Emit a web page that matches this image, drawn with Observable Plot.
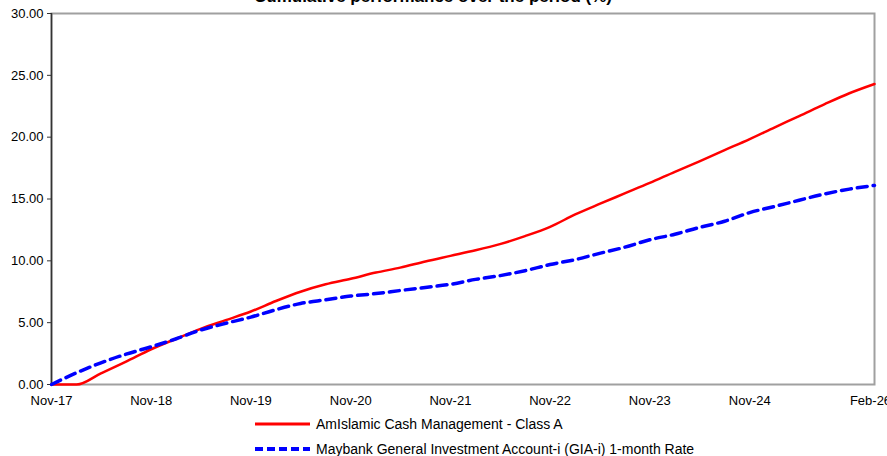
<!DOCTYPE html>
<html><head><meta charset="utf-8">
<script src="https://cdn.jsdelivr.net/npm/d3@7"></script>
<script src="https://cdn.jsdelivr.net/npm/@observablehq/plot@0.6"></script>
<style>
body{margin:0;width:887px;height:456px;overflow:hidden;position:relative;background:#fff;font-family:"Liberation Sans",Arial,sans-serif;}
#title{position:absolute;top:-12px;left:0;width:866px;text-align:center;font-weight:bold;font-size:17px;line-height:17px;color:#000;}
#chart{position:absolute;top:0;left:0;}
.leg{position:absolute;left:255px;height:16px;font-size:14px;display:flex;align-items:center;color:#000;white-space:nowrap;}
.leg svg{margin-right:6px;}
</style></head>
<body>
<div id="chart"></div>
<div id="title">Cumulative performance over the period (%)</div>
<div class="leg" style="top:416px"><svg width="55" height="6"><line x1="0" x2="55" y1="3" y2="3" stroke="#ff0000" stroke-width="3"/></svg><span id="l1"></span></div>
<div class="leg" style="top:441px"><svg width="55" height="6"><line x1="0" x2="55" y1="3" y2="3" stroke="#0000ff" stroke-width="4" stroke-dasharray="8,4"/></svg><span id="l2"></span></div>
<script>
const seriesNames = ["AmIslamic Cash Management - Class A", "Maybank General Investment Account-i (GIA-i) 1-month Rate"];
const months = ["2017-11","2018-02","2018-05","2018-08","2018-11","2019-02","2019-05","2019-08","2019-11","2020-02","2020-05","2020-08","2020-11","2021-02","2021-05","2021-08","2021-11","2022-02","2022-05","2022-08","2022-11","2023-02","2023-05","2023-08","2023-11","2024-02","2024-05","2024-08","2024-11","2025-02","2025-05","2025-08","2025-11","2026-02"];
const amIslamic = [0,0,0.9,1.85,2.85,3.7,4.5,5.2,5.9,6.75,7.5,8.1,8.55,9.05,9.45,9.95,10.4,10.85,11.35,12.0,12.75,13.75,14.6,15.45,16.3,17.2,18.05,18.95,19.85,20.8,21.7,22.65,23.55,24.3];
const maybankGIA = [0,0.95,1.75,2.45,3.05,3.7,4.4,4.95,5.45,6.05,6.55,6.85,7.15,7.35,7.6,7.85,8.1,8.5,8.8,9.2,9.7,10.1,10.6,11.1,11.7,12.15,12.7,13.2,13.9,14.4,14.9,15.4,15.8,16.1];
const tickDates = ["2017-11","2018-11","2019-11","2020-11","2021-11","2022-11","2023-11","2024-11","2026-02"];
const tickLabels = ["Nov-17","Nov-18","Nov-19","Nov-20","Nov-21","Nov-22","Nov-23","Nov-24","Feb-26"];
const yTicks = [0,5,10,15,20,25,30];

document.getElementById("l1").textContent = seriesNames[0];
document.getElementById("l2").textContent = seriesNames[1];

const parse = d3.utcParse("%Y-%m");
const red = months.map((m,i)=>({date:parse(m), value:amIslamic[i]}));
const blue = months.map((m,i)=>({date:parse(m), value:maybankGIA[i]}));
const labelMap = new Map(tickDates.map((d,i)=>[+parse(d), tickLabels[i]]));

const chart = Plot.plot({
  width:887, height:410,
  marginTop:13, marginBottom:26, marginLeft:51, marginRight:13,
  style:{fontFamily:"Liberation Sans, Arial, sans-serif", fontSize:"13px", color:"#000", background:"transparent", overflow:"visible"},
  x:{type:"utc", domain:[parse("2017-11"), parse("2026-02")]},
  y:{domain:[0,30]},
  marks:[
    Plot.frame({stroke:"#a0a0a0", strokeWidth:2}),
    Plot.axisX(tickDates.map(parse).slice(0,-1), {tickSize:0, tickPadding:11, tickFormat:d=>labelMap.get(+d), label:null}),
    Plot.axisX([parse("2026-02")], {tickSize:0, tickPadding:11, dx:-4, tickFormat:d=>labelMap.get(+d), label:null}),
    Plot.axisY(yTicks, {tickSize:4, tickPadding:4, tickFormat:d3.format(".2f"), label:null, stroke:"#333"}),
    Plot.ruleX([parse("2017-11")], {stroke:"#333", strokeWidth:1.5}),
    Plot.line(red, {x:"date", y:"value", stroke:"#ff0000", strokeWidth:2.5, curve:"monotone-x"}),
    Plot.line(blue, {x:"date", y:"value", stroke:"#0000ff", strokeWidth:3.5, strokeDasharray:"10,6", curve:"monotone-x"})
  ]
});
document.getElementById("chart").appendChild(chart);
</script>
</body></html>
